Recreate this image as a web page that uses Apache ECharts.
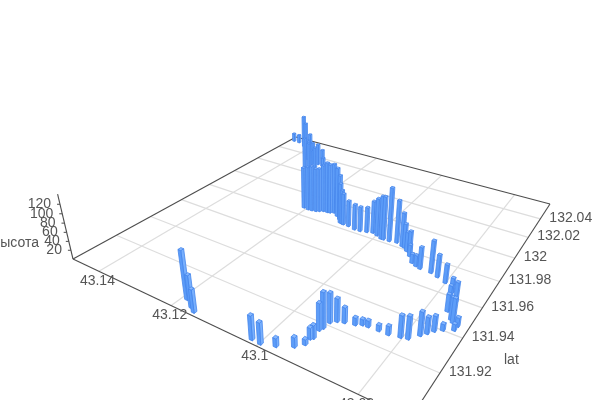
<!DOCTYPE html><html><head><meta charset="utf-8"><style>html,body{margin:0;background:#fff}#c{width:600px;height:400px}</style>
<script src="https://cdn.jsdelivr.net/npm/echarts@6/dist/echarts.min.js"></script></head><body><div id="c"></div><script>
var lonTicks=[43.08,43.1,43.12,43.14];
var lonLabels=['43.08','43.1','43.12','43.14'];
var latTicks=[131.92,131.94,131.96,131.98,132,132.02,132.04];
var latLabels=['131.92','131.94','131.96','131.98','132','132.02','132.04'];
var heightTicks=[20,40,60,80,100,120];
var lons=[43.1017,43.0998,43.0972,43.0945,43.0933,43.0934,43.0930,43.0933,43.0930,43.0928,43.0919,43.0906,43.0887,43.0876,43.0865,43.0844,43.0825,43.0804,43.0791,43.0777,43.0769,43.0761,43.0749,43.0732,43.0731,43.0778,43.0760,43.0776,43.0763,43.0742,43.0748,43.0949,43.0933,43.0926,43.0916,43.0908,43.0902,43.0887,43.0875,43.0864,43.0839,43.0822,43.0801,43.1467,43.1448,43.1420,43.1403,43.1379,43.1359,43.1347,43.1316,43.1300,43.1331,43.1287,43.1208,43.1195,43.1185,43.1175,43.1168,43.1160,43.1150,43.1143,43.1135,43.1120,43.1107,43.1098,43.1093,43.1088,43.1074,43.1055,43.1041,43.1026,43.1013,43.1000,43.0986,43.0980,43.0966,43.1189,43.1165,43.1152,43.1339,43.1326,43.1312];
var lats=[131.8996,131.8994,131.9013,131.9045,131.9075,131.9108,131.9117,131.9163,131.9180,131.9218,131.9238,131.9247,131.9258,131.9272,131.9274,131.9276,131.9276,131.9287,131.9294,131.9333,131.9356,131.9381,131.9403,131.9425,131.9452,131.9629,131.9578,131.9603,131.9512,131.9461,131.9474,131.9835,131.9822,131.9816,131.9798,131.9793,131.9769,131.9729,131.9716,131.9708,131.9706,131.9693,131.9674,132.0522,132.0519,132.0489,132.0459,132.0433,132.0346,132.0363,132.0324,132.0318,132.0304,132.0286,131.9871,131.9867,131.9869,131.9874,131.9883,131.9894,131.9896,131.9899,131.9909,131.9890,131.9869,131.9845,131.9843,131.9840,131.9839,131.9829,131.9831,131.9840,131.9850,131.9840,131.9826,131.9826,131.9828,131.9038,131.9011,131.8996,132.0261,132.0262,132.0280];
var heights=[50,45,18,21,12,24,28,57,75,63,49,33,16,13,14,13,19,46,48,50,35,33,14,14,19,32,44,24,37,52,47,98,77,56,44,50,27,21,25,49,72,50,41,22,22,85,74,52,54,46,55,44,39,31,99,104,108,104,104,112,120,117,118,116,106,94,80,74,61,60,58,59,75,87,99,100,123,104,69,49,77,66,55];
var lonMin=43.0711,lonMax=43.148,latMin=131.8976,latMax=132.0576,heightMax=141;
var H={g:.39324,h:.67202,a:-308.3,b:509.6,c:410,d:-58.15,e:-77.91,f:419,xv:320,yv:1300,kz:-.00058};
var PLANE=100, HALF=.45;
function project(px,py,z){var u=px/PLANE,v=(PLANE-py)/PLANE;
 var w=H.g*u+H.h*v+1,x=H.a*u+H.b*v+H.c,y=H.d*u+H.e*v+H.f,t=z*H.kz;
 return [(x+t*H.xv)/(w+t),(y+t*H.yv)/(w+t)];}
function depth(i){return H.g*(lons[i]-lonMin)/(lonMax-lonMin)+H.h*(lats[i]-latMin)/(latMax-latMin);}
var order=lons.map(function(_,i){return i}).sort(function(a,b){return depth(b)-depth(a)});
var barData=order.map(function(i){return [lons[i],lats[i],heights[i]]});
var FONT='14px "Liberation Sans", Arial, sans-serif',TXT='#555',AX='#4d4d4d',GRID='#ddd';
function line(a,b,col,lw){return {type:'line',shape:{x1:a[0],y1:a[1],x2:b[0],y2:b[1]},style:{stroke:col,lineWidth:lw,fill:null},silent:true};}
function text(s,x,y,al,va){return {type:'text',style:{text:s,x:x,y:y,align:al,verticalAlign:va||'middle',fill:TXT,font:FONT},silent:true};}
function renderFrame(params,api){
 var ch=[];
 function P(lon,lat,z){var c=api.coord([lon,lat]);return project(c[0],c[1],z||0);}
 lonTicks.forEach(function(t,i){ch.push(line(P(t,latMin),P(t,latMax),GRID,1.2));});
 latTicks.forEach(function(t,i){ch.push(line(P(lonMin,t),P(lonMax,t),GRID,1.2));});
 var L=P(lonMax,latMin),F=P(lonMin,latMin),B=P(lonMax,latMax),R=P(lonMin,latMax);
 [[L,F],[L,B],[B,R],[R,F]].forEach(function(e){ch.push(line(e[0],e[1],AX,1.1));});
 ch.push(line(L,P(lonMax,latMin,heightMax),AX,1.1));
 heightTicks.forEach(function(t){var q=P(lonMax,latMin,t);ch.push(line(q,[q[0]-3,q[1]],AX,1));ch.push(text(String(t),q[0]-9,q[1],'right'));});
 lonTicks.forEach(function(t,i){var q=P(t,latMin);ch.push(text(lonLabels[i],q[0]-1.5,q[1]+10,'center'));});
 latTicks.forEach(function(t,i){var q=P(lonMin,t);ch.push(text(latLabels[i],q[0]+9,q[1]-1,'left'));});
 ch.push(text('высота',39,243,'right'));
 ch.push(text('lat',504,360,'left'));
 return {type:'group',children:ch};
}
function renderBar(params,api){
 var c=api.coord([api.value(0),api.value(1)]),z=api.value(2);
 function q(du,dv,zz){return project(c[0]+du*HALF,c[1]-dv*HALF,zz);}
 var a0=q(-1,-1,0),b0=q(1,-1,0),d0=q(-1,1,0);
 var a1=q(-1,-1,z),b1=q(1,-1,z),d1=q(-1,1,z),e1=q(1,1,z);
 var st='#4686ec',lw=.8;
 function poly(pts,fill){return {type:'polygon',shape:{points:pts},style:{fill:fill,stroke:st,lineWidth:lw},silent:true};}
 return {type:'group',children:[
  poly([a0,d0,d1,a1],'#78b0fd'),
  poly([a0,b0,b1,a1],'#5d9df8'),
  poly([a1,b1,e1,d1],'#86b8fe')]};
}
var chart=echarts.init(document.getElementById('c'),null,{renderer:'canvas'});
chart.setOption({animation:false,backgroundColor:'#fff',
 grid:{show:false,left:0,top:0,width:PLANE,height:PLANE},
 xAxis:{type:'value',min:lonMin,max:lonMax,show:false},
 yAxis:{type:'value',min:latMin,max:latMax,show:false},
 series:[
  {type:'custom',name:'frame',coordinateSystem:'cartesian2d',data:[[lonMin,latMin]],renderItem:renderFrame,silent:true,z:1},
  {type:'custom',name:'высота',coordinateSystem:'cartesian2d',data:barData,encode:{x:0,y:1},renderItem:renderBar,silent:true,z:2}
 ]});
</script></body></html>
